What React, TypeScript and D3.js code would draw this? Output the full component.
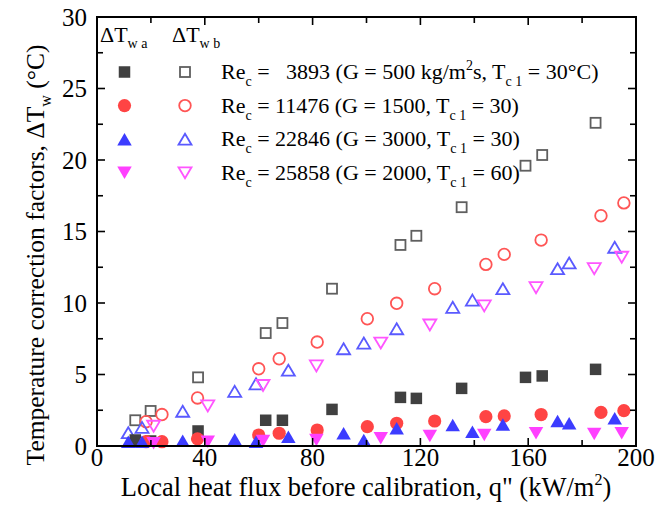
import React, { useEffect } from 'react';
import * as d3 from 'd3';

// Re_c = 3893
const x3893 = [14.2, 19.9, 37.5, 62.6, 68.8, 87.2, 112.6, 118.5, 135.3, 159.0, 165.2, 185.0];
const wa3893 = [0.42, 0.35, 1.05, 1.8, 1.8, 2.56, 3.4, 3.33, 4.03, 4.8, 4.9, 5.36];
const wb3893 = [1.8, 2.45, 4.8, 7.9, 8.6, 11.0, 14.06, 14.7, 16.7, 19.6, 20.35, 22.6];
// Re_c = 11476
const x11476 = [18.2, 24.1, 37.3, 60.0, 67.6, 81.7, 100.3, 111.2, 125.3, 144.3, 151.1, 164.8, 187.0, 195.5];
const wa11476 = [0.3, 0.3, 0.5, 0.77, 0.89, 1.12, 1.35, 1.59, 1.75, 2.05, 2.1, 2.2, 2.35, 2.47];
const wb11476 = [1.7, 2.2, 3.36, 5.4, 6.1, 7.27, 8.9, 9.98, 11.0, 12.7, 13.4, 14.4, 16.1, 17.0];
// Re_c = 22846
const x22846 = [11.6, 16.7, 31.8, 51.1, 59.0, 71.0, 91.5, 99.0, 111.2, 132.0, 139.3, 150.6, 170.9, 175.2, 192.1];
const wa22846 = [0.3, 0.3, 0.37, 0.47, 0.3, 0.65, 0.89, 0.42, 1.24, 1.47, 1.0, 1.5, 1.75, 1.59, 1.94];
const wb22846 = [0.93, 1.3, 2.43, 3.82, 4.35, 5.3, 6.8, 7.2, 8.2, 9.7, 10.2, 11.0, 12.4, 12.8, 13.9];
// Re_c = 25858
const x25858 = [21.0, 41.1, 61.6, 81.4, 105.3, 123.5, 143.7, 162.9, 184.5, 194.7];
const wa25858 = [0.19, 0.3, 0.35, 0.42, 0.54, 0.7, 0.77, 0.89, 0.84, 0.89];
const wb25858 = [1.38, 2.8, 4.23, 5.6, 7.2, 8.46, 9.8, 11.07, 12.4, 13.2];

const xMajor = [0, 40, 80, 120, 160, 200];
const yMajor = [0, 5, 10, 15, 20, 25, 30];

const FONT = 'Liberation Serif, DejaVu Serif, serif';

type Shape = 'square' | 'circle' | 'up' | 'down';

const C_GRAY = '#404040';
const C_GRAY_O = '#5f5f5f';
const C_RED = '#ff4444';
const C_RED_O = '#ff5555';
const C_BLUE = '#3c3cff';
const C_BLUE_O = '#5a5aff';
const C_MAG = '#ff40ff';
const C_MAG_O = '#ff55ff';

function Marker({ shape, cx, cy, filled, color }: { shape: Shape; cx: number; cy: number; filled: boolean; color: string }) {
  const fill = filled ? color : 'none';
  const stroke = filled ? 'none' : color;
  const sw = 1.8;
  if (shape === 'square') {
    const s = filled ? 11.5 : 10;
    return <rect x={cx - s / 2} y={cy - s / 2} width={s} height={s} fill={fill} stroke={stroke} strokeWidth={sw} />;
  }
  if (shape === 'circle') {
    return <circle cx={cx} cy={cy} r={filled ? 6.6 : 5.8} fill={fill} stroke={stroke} strokeWidth={sw} />;
  }
  const w = filled ? 14.5 : 13;
  const h = filled ? 12.5 : 11;
  const pts =
    shape === 'up'
      ? [[cx, cy - h / 2], [cx + w / 2, cy + h / 2], [cx - w / 2, cy + h / 2]]
      : [[cx, cy + h / 2], [cx + w / 2, cy - h / 2], [cx - w / 2, cy - h / 2]];
  return <polygon points={pts.map((p) => p.join(',')).join(' ')} fill={fill} stroke={stroke} strokeWidth={sw} strokeLinejoin="miter" />;
}

export default function App() {
  useEffect(() => {
    document.body.style.margin = '0';
  }, []);

  const W = 656;
  const H = 517;
  const x = d3.scaleLinear().domain([0, 200]).range([97, 636]);
  const y = d3.scaleLinear().domain([0, 30]).range([446, 17]);

  const series = [
    { xs: x3893, ys: wb3893, shape: 'square' as Shape, filled: false, color: C_GRAY_O },
    { xs: x11476, ys: wb11476, shape: 'circle' as Shape, filled: false, color: C_RED_O },
    { xs: x22846, ys: wb22846, shape: 'up' as Shape, filled: false, color: C_BLUE_O },
    { xs: x25858, ys: wb25858, shape: 'down' as Shape, filled: false, color: C_MAG_O },
    { xs: x3893, ys: wa3893, shape: 'square' as Shape, filled: true, color: C_GRAY },
    { xs: x11476, ys: wa11476, shape: 'circle' as Shape, filled: true, color: C_RED },
    { xs: x22846, ys: wa22846, shape: 'up' as Shape, filled: true, color: C_BLUE },
    { xs: x25858, ys: wa25858, shape: 'down' as Shape, filled: true, color: C_MAG },
  ];

  const xTicksAll = d3.range(0, 201, 20);
  const yTicksAll = d3.range(0, 30.01, 2.5);
  const [x0, x1] = x.range();
  const [y0, y1] = y.range();

  const legendRows = [
    { shape: 'square' as Shape, cf: C_GRAY, co: C_GRAY_O, re: '   3893', rest: ' (G = 500 kg/m', sup: true, tc: '30°C)' },
    { shape: 'circle' as Shape, cf: C_RED, co: C_RED_O, re: ' 11476', rest: ' (G = 1500', sup: false, tc: '30)' },
    { shape: 'up' as Shape, cf: C_BLUE, co: C_BLUE_O, re: ' 22846', rest: ' (G = 3000', sup: false, tc: '30)' },
    { shape: 'down' as Shape, cf: C_MAG, co: C_MAG_O, re: ' 25858', rest: ' (G = 2000', sup: false, tc: '60)' },
  ];

  const LF = 22;
  const SF = 14;
  const ts = { fontFamily: FONT };

  return (
    <svg width={W} height={H} style={{ display: 'block', position: 'absolute', left: 0, top: 0, background: '#fff', fontFamily: FONT }}>
      <rect x={0} y={0} width={W} height={H} fill="#fff" />
      {/* data */}
      {series.map((s, si) =>
        s.xs.map((xv, i) => (
          <Marker key={`${si}-${i}`} shape={s.shape} cx={x(xv)} cy={y(s.ys[i])} filled={s.filled} color={s.color} />
        ))
      )}
      {/* frame */}
      <rect x={x0} y={y1} width={x1 - x0} height={y0 - y1} fill="none" stroke="#000" strokeWidth={2} />
      {xTicksAll.map((t) => {
        const major = t % 40 === 0;
        const len = major ? 8 : 6;
        return (
          <g key={`xt${t}`} stroke="#000" strokeWidth={1.6}>
            <line x1={x(t)} x2={x(t)} y1={y0} y2={y0 - len} />
            <line x1={x(t)} x2={x(t)} y1={y1} y2={y1 + len} />
          </g>
        );
      })}
      {yTicksAll.map((t) => {
        const major = t % 5 === 0;
        const len = major ? 8 : 6;
        return (
          <g key={`yt${t}`} stroke="#000" strokeWidth={1.6}>
            <line x1={x0} x2={x0 + len} y1={y(t)} y2={y(t)} />
            <line x1={x1} x2={x1 - len} y1={y(t)} y2={y(t)} />
          </g>
        );
      })}
      {xMajor.map((t) => (
        <text key={`xl${t}`} x={x(t)} y={466} textAnchor="middle" fontSize={25} fill="#000" style={ts}>
          {t}
        </text>
      ))}
      {yMajor.map((t) => (
        <text key={`yl${t}`} x={87} y={y(t) + 8.5} textAnchor="end" fontSize={25} fill="#000" style={ts}>
          {t}
        </text>
      ))}
      {/* axis titles */}
      <text x={366} y={496} textAnchor="middle" fontSize={26.5} fill="#000" style={ts}>
        Local heat flux before calibration, q" (kW/m
        <tspan fontSize={16} dy={-11}>2</tspan>
        <tspan dy={11}>)</tspan>
      </text>
      <text transform="translate(44,255) rotate(-90)" textAnchor="middle" fontSize={25.5} fill="#000" style={ts}>
        Temperature correction factors, ΔT
        <tspan fontSize={16} dy={7}>w</tspan>
        <tspan dy={-7}> (°C)</tspan>
      </text>
      {/* legend header */}
      <text x={100} y={42} fontSize={LF} fill="#000" style={ts}>
        ΔT<tspan fontSize={SF} dy={6} style={{ whiteSpace: 'pre' }}>w a</tspan>
      </text>
      <text x={172} y={42} fontSize={LF} fill="#000" style={ts}>
        ΔT<tspan fontSize={SF} dy={6} style={{ whiteSpace: 'pre' }}>w b</tspan>
      </text>
      {legendRows.map((r, i) => {
        const cy = 72 + i * 33.6;
        return (
          <g key={`lg${i}`}>
            <Marker shape={r.shape} cx={124.5} cy={cy} filled={true} color={r.cf} />
            <Marker shape={r.shape} cx={185} cy={cy} filled={false} color={r.co} />
            <text x={221} y={cy + 7} fontSize={LF} fill="#000" style={{ whiteSpace: 'pre', fontFamily: FONT }}>
              Re<tspan fontSize={SF} dy={7}>c</tspan>
              <tspan dy={-7}>{` =${r.re}${r.rest}`}</tspan>
              {r.sup ? (
                <>
                  <tspan fontSize={SF} dy={-9}>2</tspan>
                  <tspan dy={9}>s, T</tspan>
                </>
              ) : (
                <tspan>, T</tspan>
              )}
              <tspan fontSize={SF} dy={7}>c 1</tspan>
              <tspan dy={-7}>{` = ${r.tc}`}</tspan>
            </text>
          </g>
        );
      })}
    </svg>
  );
}
